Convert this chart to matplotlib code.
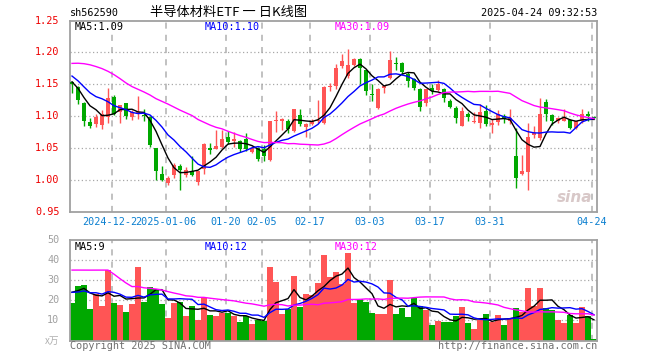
import numpy as np
import pandas as pd
import matplotlib
matplotlib.use('Agg')
from matplotlib import pyplot as plt

# daily candles 2024-12-12 .. 2025-04-24 (88 trading days)
opens = [1.154, 1.146, 1.121, 1.091, 1.088, 1.087, 1.099, 1.130, 1.106, 1.121,
         1.099, 1.103, 1.102, 1.099, 1.050, 1.009, 0.995, 1.008, 1.022, 1.008,
         1.015, 0.997, 1.018, 1.050, 1.049, 1.052, 1.068, 1.062, 1.061, 1.065,
         1.044, 1.050, 1.048, 1.032, 1.092, 1.093, 1.092, 1.077, 1.102, 1.083,
         1.088, 1.092, 1.089, 1.146, 1.147, 1.179, 1.163, 1.180, 1.190, 1.172,
         1.135, 1.113, 1.144, 1.160, 1.184, 1.184, 1.166, 1.159, 1.142, 1.121,
         1.145, 1.141, 1.142, 1.124, 1.113, 1.085, 1.104, 1.091, 1.090, 1.108,
         1.086, 1.091, 1.101, 1.092, 1.038, 1.010, 1.012, 1.071, 1.066, 1.123,
         1.102, 1.092, 1.093, 1.094, 1.081, 1.092, 1.103, 1.099]
closes = [1.150, 1.125, 1.093, 1.084, 1.099, 1.104, 1.128, 1.104, 1.117, 1.100,
          1.106, 1.107, 1.100, 1.055, 1.014, 1.000, 1.004, 1.024, 1.016, 1.016,
          1.008, 1.0135, 1.057, 1.047, 1.053, 1.065, 1.060, 1.064, 1.048, 1.048,
          1.050, 1.033, 1.038, 1.092, 1.094, 1.096, 1.080, 1.111, 1.088, 1.088,
          1.092, 1.094, 1.146, 1.147, 1.176, 1.187, 1.180, 1.190, 1.175, 1.139,
          1.133, 1.143, 1.147, 1.188, 1.182, 1.170, 1.156, 1.144, 1.115, 1.142,
          1.139, 1.150, 1.129, 1.115, 1.097, 1.108, 1.099, 1.092, 1.106, 1.088,
          1.089, 1.103, 1.096, 1.098, 1.004, 1.015, 1.067, 1.074, 1.103, 1.103,
          1.092, 1.098, 1.097, 1.082, 1.092, 1.103, 1.101, 1.097]
highs = [1.156, 1.147, 1.122, 1.097, 1.103, 1.110, 1.144, 1.133, 1.118, 1.121,
         1.110, 1.132, 1.112, 1.101, 1.050, 1.022, 1.007, 1.026, 1.025, 1.020,
         1.038, 1.015, 1.058, 1.058, 1.079, 1.078, 1.077, 1.076, 1.063, 1.073,
         1.054, 1.052, 1.055, 1.093, 1.109, 1.097, 1.095, 1.112, 1.111, 1.089,
         1.095, 1.125, 1.147, 1.152, 1.182, 1.197, 1.205, 1.192, 1.191, 1.173,
         1.150, 1.144, 1.149, 1.202, 1.193, 1.185, 1.170, 1.160, 1.145, 1.143,
         1.150, 1.157, 1.144, 1.127, 1.116, 1.115, 1.107, 1.106, 1.119, 1.118,
         1.096, 1.110, 1.103, 1.112, 1.081, 1.040, 1.090, 1.085, 1.128, 1.127,
         1.103, 1.099, 1.111, 1.096, 1.093, 1.112, 1.108, 1.101]
lows = [1.137, 1.119, 1.085, 1.081, 1.083, 1.080, 1.089, 1.102, 1.089, 1.096,
        1.094, 1.095, 1.092, 1.052, 1.000, 0.998, 0.993, 1.003, 0.985, 1.005,
        1.006, 0.992, 1.010, 1.041, 1.048, 1.051, 1.057, 1.052, 1.044, 1.046,
        1.042, 1.030, 1.030, 1.030, 1.076, 1.078, 1.073, 1.076, 1.084, 1.067,
        1.086, 1.090, 1.088, 1.140, 1.143, 1.176, 1.160, 1.178, 1.150, 1.134,
        1.124, 1.111, 1.136, 1.158, 1.172, 1.164, 1.146, 1.141, 1.108, 1.116,
        1.135, 1.140, 1.123, 1.113, 1.090, 1.084, 1.092, 1.090, 1.081, 1.084,
        1.073, 1.086, 1.089, 1.088, 0.988, 1.008, 0.985, 1.066, 1.063, 1.092,
        1.087, 1.090, 1.092, 1.080, 1.080, 1.090, 1.092, 1.095]
# volume, x10k
volume = [18.9, 27.2, 27.6, 15.7, 23.2, 17.2, 35.1, 18.9, 17.7, 14.2,
          18.2, 36.6, 19.2, 26.7, 25.8, 18.2, 11.3, 18.7, 19.2, 12.3,
          17.2, 10.3, 21.2, 12.7, 12.3, 13.9, 13.9, 12.3, 9.4, 12.1,
          8.3, 10.3, 9.8, 36.6, 29.1, 13.2, 15.6, 32.1, 16.9, 23.2,
          22.8, 28.8, 42.5, 31.8, 34.1, 28.1, 43.7, 18.9, 20.7, 19.4,
          13.7, 13.2, 13.2, 30.3, 13.2, 16.2, 11.8, 20.9, 17.4, 15.2,
          7.8, 9.9, 9.3, 9.3, 12.4, 16.7, 8.8, 5.8, 10.3, 13.2,
          9.4, 12.7, 7.8, 11.3, 16.2, 14.4, 26.2, 17.2, 26.2, 16.2,
          15.2, 10.3, 8.8, 12.7, 8.8, 16.7, 12.3, 0.8]

# 29 days before the window, only used to start the moving averages
prior_close = [1.117, 1.115, 1.136, 1.181, 1.201, 1.255, 1.261, 1.304, 1.302, 1.278,
               1.234, 1.227, 1.197, 1.186, 1.127, 1.131, 1.166, 1.158, 1.143, 1.135,
               1.200, 1.188, 1.176, 1.160, 1.137, 1.175, 1.166, 1.148, 1.130]
prior_volume = [27, 28, 16, 23, 17, 35, 80, 85, 78, 72,
                36, 38, 34, 37, 33, 35, 40, 38, 35, 24,
                26, 22, 25, 23, 24, 23, 22, 27, 29]

date_idx = [7, 16, 26, 32, 40, 50, 60, 70, 87]
# first label is cut by the second one in the original ("2024-12-2|2025-01-06")
date_lbl = ['2024-12-2', '2025-01-06', '01-20', '02-05', '02-17',
            '03-03', '03-17', '03-31', '04-24']
price_ticks = [0.95, 1.00, 1.05, 1.10, 1.15, 1.20, 1.25]
vol_ticks = [10, 20, 30, 40, 50]

RED = '#ff5555'
GREEN = '#00a800'
GRID = '#a8a8a8'
MONO = 'DejaVu Sans Mono'

n = len(closes)
x = np.arange(n)
o = np.array(opens); c = np.array(closes)
h = np.array(highs); l = np.array(lows)
v = np.array(volume)
up = c >= o
colors = np.where(up, RED, GREEN)

cs = pd.Series(prior_close + closes)
vs = pd.Series(prior_volume + volume)
k = len(prior_close)
ma = {w: cs.rolling(w).mean().values[k:] for w in (5, 10, 30)}
vma = {w: vs.rolling(w).mean().values[k:] for w in (5, 10, 30)}

W, H = 660, 360
fig = plt.figure(figsize=(6.6, 3.6), dpi=100)

def box(x0, y0, x1, y1):
    return [x0 / W, 1 - y1 / H, (x1 - x0) / W, (y1 - y0) / H]

ax = fig.add_axes(box(70, 20.5, 597, 212))
axv = fig.add_axes(box(70, 240, 597, 340.5))

xlim = (-1 / 3, 87.5)
for a in (ax, axv):
    a.set_xlim(*xlim)
    a.set_xticks([])
    a.set_yticks([])
    for s in a.spines.values():
        s.set_color('#a0a0a0')
        s.set_linewidth(1.3)
    for d in date_idx:
        a.axvline(d - 1 / 3, color='#b0b0b0', lw=1.1, ls=(0, (4, 4)), zorder=0)

ax.set_ylim(0.95, 1.25)
axv.set_ylim(0, 50)
for t in price_ticks[1:-1]:
    ax.axhline(t, color=GRID, lw=0.9, ls=(0, (1, 2)), zorder=0)
for t in vol_ticks[:-1]:
    axv.axhline(t, color=GRID, lw=0.9, ls=(0, (1, 2)), zorder=0)

# candles
ax.vlines(x, l, h, colors=colors, lw=1, zorder=2)
body = np.maximum(np.abs(c - o), 0.0009)
ax.bar(x, body, bottom=np.minimum(o, c), width=0.75, color=colors,
       linewidth=0, zorder=3)
ax.plot(x, ma[5], color='black', lw=1, zorder=4)
ax.plot(x, ma[10], color='#0000ff', lw=1, zorder=4)
ax.plot(x, ma[30], color='#ff00ff', lw=1, zorder=4)

# volume
axv.bar(x, v, width=0.85, color=colors, linewidth=0, zorder=2)
axv.plot(x, vma[5], color='black', lw=1, zorder=4)
axv.plot(x, vma[10], color='#0000ff', lw=1, zorder=4)
axv.plot(x, vma[30], color='#ff00ff', lw=1, zorder=4)

# price labels on the left
for t in price_ticks:
    ax.text(-0.02, (t - 0.95) / 0.30, f'{t:.2f}', transform=ax.transAxes,
            ha='right', va='center', color='#ee0000', fontsize=7.3, family=MONO)
for t in vol_ticks:
    axv.text(-0.02, t / 50, f'{t}', transform=axv.transAxes,
             ha='right', va='center', color='#a0a0a0', fontsize=7.3, family=MONO)
axv.text(-0.02, 0, 'x万', transform=axv.transAxes, ha='right', va='center',
         color='#b0b0b0', fontsize=7, family=['Noto Sans CJK SC', 'DejaVu Sans'],
         style='italic')

# date labels
for d, lb in zip(date_idx, date_lbl):
    xc = (72 + 6 * d - 2) / W
    if d == date_idx[0]:
        fig.text(xc - 30 / W, 1 - 222 / H, lb, ha='left', va='center',
                 color='#0a7fd0', fontsize=7.3, family=MONO)
    else:
        fig.text(xc, 1 - 222 / H, lb, ha='center', va='center',
                 color='#0a7fd0', fontsize=7.3, family=MONO)

# header
fig.text(70 / W, 1 - 13 / H, 'sh562590', ha='left', va='center',
         fontsize=7.3, family=MONO)
fig.text(229 / W, 1 - 12.5 / H, '半导体材料ETF 一 日K线图', ha='center', va='center',
         fontsize=9.5, family=['Noto Sans CJK SC', 'DejaVu Sans'])
fig.text(597 / W, 1 - 13 / H, '2025-04-24 09:32:53', ha='right', va='center',
         fontsize=7.3, family=MONO)

# MA legends
fig.text(74.5 / W, 1 - 27 / H, 'MA5:1.09', color='black', va='center',
         fontsize=7.3, family=MONO)
fig.text(205 / W, 1 - 27 / H, 'MA10:1.10', color='#0000ff', va='center',
         fontsize=7.3, family=MONO)
fig.text(334.5 / W, 1 - 27 / H, 'MA30:1.09', color='#ff00ff', va='center',
         fontsize=7.3, family=MONO)
fig.text(74.5 / W, 1 - 247 / H, 'MA5:9', color='black', va='center',
         fontsize=7.3, family=MONO)
fig.text(205 / W, 1 - 247 / H, 'MA10:12', color='#0000ff', va='center',
         fontsize=7.3, family=MONO)
fig.text(334.5 / W, 1 - 247 / H, 'MA30:12', color='#ff00ff', va='center',
         fontsize=7.3, family=MONO)

# footer and watermark
fig.text(70 / W, 1 - 346 / H, 'Copyright 2025 SINA.COM', ha='left', va='center',
         color='#707070', fontsize=7.3, family=MONO)
fig.text(597 / W, 1 - 346 / H, 'http://finance.sina.com.cn', ha='right',
         va='center', color='#707070', fontsize=7.3, family=MONO)
fig.text(592 / W, 1 - 197 / H, 'sina', ha='right', va='center', color='#d8c8c8',
         fontsize=11, style='italic', weight='bold')

plt.savefig('out.png', dpi=100)
